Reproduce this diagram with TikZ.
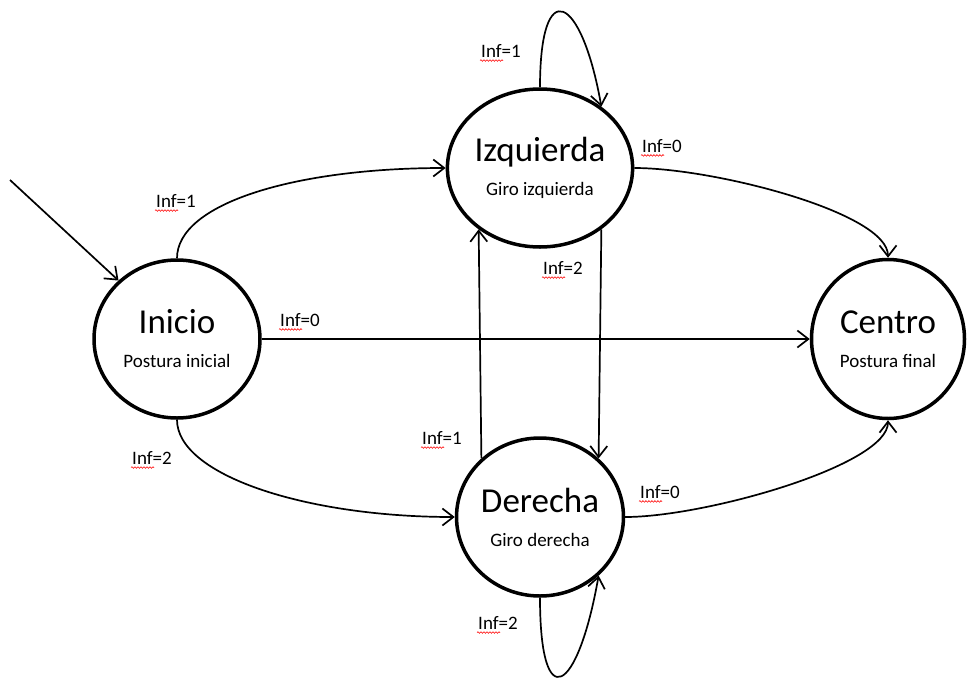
\documentclass[tikz,border=0pt]{standalone}
\usepackage{fontspec}
\setmainfont{Carlito}
\usetikzlibrary{shapes.geometric,arrows.meta,positioning,decorations.pathmorphing}

\newcommand{\titulo}[1]{{\fontsize{35}{34}\selectfont #1}}

\begin{document}
\begin{tikzpicture}[x=1pt, y=-1pt, on grid]
            \tikzstyle{estado} = [ellipse, draw, line width=3.5pt, minimum width=166pt, minimum height=158pt, inner sep=0pt, align=center, font=\fontsize{19}{34}\selectfont]
            \tikzstyle{flecha} = [line width=1.7pt, ->, >={Straight Barb[length=11pt,width=17pt]}]
            \tikzstyle{etiq} = [inner sep=0pt, font=\fontsize{19}{22}\selectfont]
            \tikzstyle{onda} = [red, line width=0.6pt, decorate, decoration={snake, amplitude=0.8pt, segment length=3pt}]

            \useasboundingbox (0,0) rectangle (967,678);

            \node [estado] (inicio) at (177,339) {\titulo{Inicio}\\Postura inicial};
            \node [estado, above right=171pt and 363pt of inicio] (izq) {\titulo{Izquierda}\\Giro izquierda};
            \node [estado, below right=178pt and 363pt of inicio] (der) {\titulo{Derecha}\\Giro derecha};
            \node [estado, right=711pt of inicio, minimum width=153pt, minimum height=159pt] (centro) {\titulo{Centro}\\Postura final};

            \coordinate (entrada) at (10,180);

            \draw [flecha] (entrada) -- (inicio.135);
            \draw [flecha] (inicio.north) to[out=90, in=180, out distance=55pt, in distance=150pt] (izq.west);
            \draw [flecha] (inicio.east) -- (centro.west);
            \draw [flecha] (inicio.south) to[out=-90, in=180, out distance=55pt, in distance=150pt] (der.west);
            \draw [flecha] (izq.north) to[out=90, in=100, distance=114pt] (izq.45);
            \draw [flecha] (izq.east) to[out=0, in=90, out distance=80pt, in distance=45pt] (centro.north);
            \draw [flecha] (izq.-45) -- (der.45);
            \draw [flecha] (der.135) -- (izq.-135);
            \draw [flecha] (der.east) to[out=0, in=-90, out distance=80pt, in distance=45pt] (centro.south);
            \draw [flecha] (der.south) to[out=-90, in=-100, distance=120pt] (der.-45);

            \node [etiq] (l1) at (176,201) {Inf=1};
            \node [etiq] (l2) at (501,51) {Inf=1};
            \node [etiq] (l3) at (662,146) {Inf=0};
            \node [etiq] (l4) at (300,320) {Inf=0};
            \node [etiq] (l5) at (563,268) {Inf=2};
            \node [etiq] (l6) at (442,438) {Inf=1};
            \node [etiq] (l7) at (152,458) {Inf=2};
            \node [etiq] (l8) at (660,492) {Inf=0};
            \node [etiq] (l9) at (498,623) {Inf=2};

            % subrayado del corrector
            \foreach \l in {l1,l2,l3,l4,l5,l6,l7,l8,l9}
                \draw [onda] ([xshift=-1pt, yshift=-3pt]\l.base west) -- ([xshift=22pt, yshift=-3pt]\l.base west);
        \end{tikzpicture}
\end{document}
